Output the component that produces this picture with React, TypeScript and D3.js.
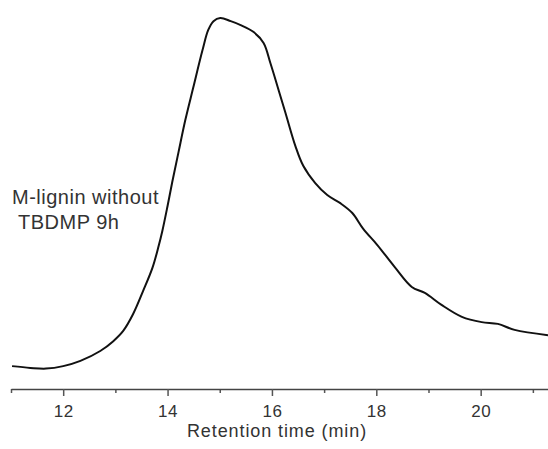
import React, { useEffect, useRef } from 'react'
import * as d3 from 'd3'

// retention time (min) and detector response (normalised, peak = 100)
const times = [11.02, 11.37, 11.67, 12.0, 12.33, 12.71, 12.96, 13.15, 13.34, 13.53, 13.71, 13.82, 13.9, 14.0,
  14.09, 14.21, 14.34, 14.49, 14.67, 14.78, 14.88, 15.01, 15.21, 15.4, 15.65, 15.84, 15.97, 16.11, 16.26,
  16.45, 16.6, 16.83, 17.06, 17.31, 17.54, 17.75, 18.02, 18.35, 18.68, 18.93, 19.25, 19.64, 20.02, 20.33,
  20.65, 21.29]
const response = [1.1, 0.6, 0.4, 1.1, 2.6, 5.4, 8.2, 11.1, 15.9, 22.4, 29.0, 34.7, 39.5, 46.6,
  53.4, 61.9, 71.0, 80.1, 90.9, 96.6, 99.1, 100, 99.1, 98.0, 96.0, 92.9, 87.2, 80.4, 73.0,
  63.6, 58.0, 53.1, 49.7, 47.4, 44.6, 40.1, 35.5, 29.3, 23.6, 21.9, 18.5, 15.1, 13.6, 13.1,
  11.4, 9.9]
const majorTicks = [12, 14, 16, 18, 20]
const minorTicks = [11, 13, 15, 17, 19, 21]
const sampleLabel = ['M-lignin without', 'TBDMP 9h']
const xTitle = 'Retention time (min)'

export default function App() {
  const ref = useRef<SVGSVGElement>(null)

  useEffect(() => {
    const svg = d3.select(ref.current)
    svg.selectAll('*').remove()

    const x = d3.scaleLinear().domain([11, 21.29]).range([11, 548])
    const y = d3.scaleLinear().domain([0, 100]).range([370, 18])
    const axisY = 389

    const font = '"Liberation Sans", Arial, sans-serif'

    // minor ticks
    svg.append('g')
      .attr('transform', `translate(0,${axisY})`)
      .call(d3.axisBottom(x).tickValues(minorTicks).tickSize(4).tickSizeOuter(0).tickFormat(() => ''))
      .call(g => g.select('.domain').remove())
      .call(g => g.selectAll('line').attr('stroke', '#555').attr('stroke-width', 1.5))

    // major ticks + labels
    const ax = svg.append('g')
      .attr('transform', `translate(0,${axisY})`)
      .call(d3.axisBottom(x).tickValues(majorTicks).tickSize(7).tickSizeOuter(0).tickPadding(9))
    ax.select('.domain').attr('stroke', '#444').attr('stroke-width', 1.6)
    ax.selectAll('line').attr('stroke', '#555').attr('stroke-width', 1.5)
    ax.selectAll('text')
      .attr('font-family', font)
      .attr('font-size', 17)
      .attr('letter-spacing', 0.5)
      .attr('fill', '#333')

    svg.append('text')
      .attr('x', 277)
      .attr('y', 437)
      .attr('text-anchor', 'middle')
      .attr('font-family', font)
      .attr('font-size', 18)
      .attr('letter-spacing', 0.9)
      .attr('fill', '#333')
      .text(xTitle)

    const line = d3.line<number>()
      .x((_, i) => x(times[i]))
      .y(d => y(d))
      .curve(d3.curveCatmullRom.alpha(0.5))

    svg.append('path')
      .datum(response)
      .attr('d', line)
      .attr('fill', 'none')
      .attr('stroke', '#111')
      .attr('stroke-width', 2)

    svg.append('g')
      .selectAll('text')
      .data(sampleLabel)
      .join('text')
      .attr('x', (_, i) => (i === 0 ? 12 : 18))
      .attr('y', (_, i) => 204 + i * 25)
      .attr('font-family', font)
      .attr('font-size', 20)
      .attr('letter-spacing', 0.5)
      .attr('fill', '#333')
      .text(d => d)
  }, [])

  return (
    <svg ref={ref} width={548} height={449}
      style={{ position: 'absolute', left: 0, top: 0, background: '#fff' }} />
  )
}
